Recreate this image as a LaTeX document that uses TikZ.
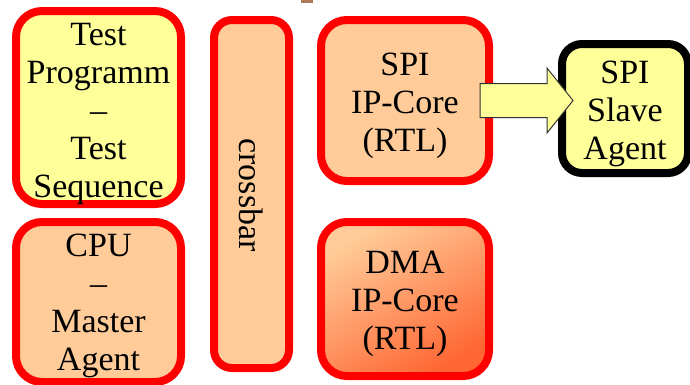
\documentclass[tikz,border=0pt]{standalone}
\usepackage{fontspec}
\IfFontExistsTF{LiberationSerif-Regular.ttf}
  {\setmainfont{LiberationSerif-Regular.ttf}}
  {\setmainfont{Liberation Serif}}
\usetikzlibrary{calc}
\definecolor{lyellow}{HTML}{FFFF99}
\definecolor{peach}{HTML}{FFCC99}
\definecolor{dmadark}{HTML}{FF6633}
\definecolor{tinybrown}{HTML}{B07A5A}
\tikzset{
  blk/.style={draw=red, line width=8pt, rounded corners=26pt, inner sep=0pt},
  agent/.style={blk, draw=black, fill=lyellow, rounded corners=20pt},
  txt/.style={align=center, font=\fontsize{34}{38}\selectfont, inner sep=0pt},
  fatarrow/.style={draw=black!80, line width=1pt, fill=lyellow, line join=miter}
}
\begin{document}
\begin{tikzpicture}[x=1pt,y=-1pt]
\useasboundingbox (0,0) rectangle (690,384);
\clip (0,0) rectangle (690,384);
\fill[tinybrown] (301,0) rectangle (313,2.5);
\node[blk, fill=lyellow, minimum width=165pt, minimum height=193pt] (test) at (98.5,107.5) {};
\node[txt] (testtxt) at ($(test.center)+(0,6)$) {Test\\Programm\\–\\Test\\Sequence};
\node[blk, fill=peach, minimum width=165pt, minimum height=160pt] (cpu) at (98.5,302) {};
\node[txt] (cputxt) at ($(cpu.center)+(0,3.5)$) {CPU\\–\\Master\\Agent};
\node[blk, fill=peach, rounded corners=18pt, minimum width=75pt, minimum height=348pt] (xbar) at (251.5,194) {};
\node[txt, rotate=-90] (xbartext) at ($(xbar.center)+(0,1)$) {crossbar};
\node[blk, fill=peach, minimum width=168pt, minimum height=161pt] (spi) at (405,100.5) {};
\node[txt] (spitxt) at ($(spi.center)+(0,5)$) {SPI\\IP-Core\\(RTL)};
\node[blk, top color=peach, bottom color=dmadark, shading angle=30, minimum width=168pt, minimum height=154pt] (dma) at (405,299) {};
\node[txt] (dmatxt) at ($(dma.center)+(0,5)$) {DMA\\IP-Core\\(RTL)};
\node[agent, minimum width=126pt, minimum height=129pt] (slave) at (625,108.5) {};
\node[txt] (slavetxt) at ($(slave.center)+(0,5)$) {SPI\\Slave\\Agent};
\coordinate (a0) at ($(spi.east)+(-13,0)$);
\coordinate (a1) at ($(slave.west |- spi.east)+(15,0)$);
\draw[fatarrow] ($(a0)+(0,-17)$) -- ($(a1)+(-26,-17)$) -- ($(a1)+(-26,-32.5)$) -- (a1)
  -- ($(a1)+(-26,32.5)$) -- ($(a1)+(-26,17)$) -- ($(a0)+(0,17)$) -- cycle;
\end{tikzpicture}
\end{document}
